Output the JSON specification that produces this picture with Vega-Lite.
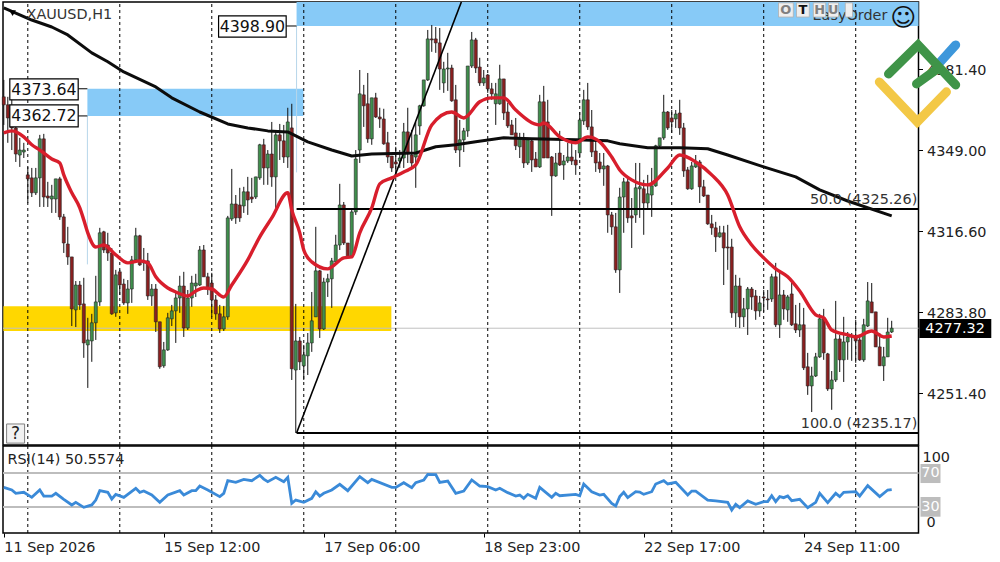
{"$schema":"https://vega.github.io/schema/vega-lite/v6.json","background":"#ffffff","padding":{"left":-4,"top":0,"right":0,"bottom":0},"spacing":1,"bounds":"flush",
"config":{"view":{"stroke":"#000000","strokeWidth":1.5},"text":{"font":"DejaVu Sans","fontSize":14.4},"axis":{"labelFont":"DejaVu Sans","labelFontSize":14.4,"labelColor":"#222222","tickColor":"#000000","domain":false,"grid":false,"title":null}},
"datasets":{
"candles":[
{"i":0,"o":4370.4,"h":4377.2,"l":4359.1,"c":4367.2},{"i":1,"o":4367.2,"h":4370.4,"l":4351.9,"c":4361.9},{"i":2,"o":4361.9,"h":4370.4,"l":4349.0,"c":4357.9},{"i":3,"o":4357.9,"h":4359.1,"l":4344.2,"c":4347.4},{"i":4,"o":4347.0,"h":4353.9,"l":4342.2,"c":4349.0},{"i":5,"o":4348.2,"h":4351.9,"l":4345.8,"c":4349.0},{"i":6,"o":4339.0,"h":4342.2,"l":4327.7,"c":4337.4},{"i":7,"o":4337.8,"h":4341.8,"l":4330.1,"c":4331.8},{"i":8,"o":4331.8,"h":4341.8,"l":4330.9,"c":4337.8},{"i":9,"o":4337.8,"h":4355.1,"l":4326.1,"c":4353.5},
{"i":10,"o":4353.5,"h":4355.5,"l":4326.1,"c":4330.1},{"i":11,"o":4330.5,"h":4336.2,"l":4326.1,"c":4329.7},{"i":12,"o":4329.3,"h":4335.0,"l":4323.7,"c":4330.5},{"i":13,"o":4329.3,"h":4337.4,"l":4323.7,"c":4337.4},{"i":14,"o":4337.4,"h":4338.2,"l":4320.9,"c":4322.1},{"i":15,"o":4322.1,"h":4323.3,"l":4307.6,"c":4311.6},{"i":16,"o":4311.2,"h":4318.1,"l":4302.8,"c":4306.0},{"i":17,"o":4306.0,"h":4306.0,"l":4278.2,"c":4285.1},{"i":18,"o":4284.7,"h":4296.3,"l":4277.8,"c":4294.7},{"i":19,"o":4294.7,"h":4296.3,"l":4284.7,"c":4286.7},
{"i":20,"o":4287.1,"h":4297.6,"l":4265.4,"c":4271.4},{"i":21,"o":4270.6,"h":4281.5,"l":4253.3,"c":4272.6},{"i":22,"o":4272.2,"h":4283.1,"l":4263.8,"c":4279.5},{"i":23,"o":4279.5,"h":4298.4,"l":4272.6,"c":4287.9},{"i":24,"o":4287.9,"h":4317.7,"l":4286.3,"c":4315.7},{"i":25,"o":4316.1,"h":4316.5,"l":4307.6,"c":4308.8},{"i":26,"o":4310.8,"h":4315.7,"l":4304.4,"c":4307.6},{"i":27,"o":4307.6,"h":4309.6,"l":4282.7,"c":4283.1},{"i":28,"o":4283.5,"h":4300.8,"l":4281.9,"c":4298.8},{"i":29,"o":4300.0,"h":4300.8,"l":4290.7,"c":4294.7},
{"i":30,"o":4295.1,"h":4297.2,"l":4286.7,"c":4287.5},{"i":31,"o":4287.5,"h":4296.7,"l":4283.1,"c":4293.1},{"i":32,"o":4293.1,"h":4306.4,"l":4287.5,"c":4304.8},{"i":33,"o":4304.8,"h":4317.7,"l":4304.0,"c":4314.5},{"i":34,"o":4314.5,"h":4314.9,"l":4302.4,"c":4302.8},{"i":35,"o":4304.0,"h":4309.6,"l":4300.4,"c":4303.6},{"i":36,"o":4304.4,"h":4307.6,"l":4288.7,"c":4290.3},{"i":37,"o":4290.3,"h":4295.1,"l":4286.3,"c":4293.1},{"i":38,"o":4293.1,"h":4295.1,"l":4275.8,"c":4279.9},{"i":39,"o":4279.9,"h":4279.9,"l":4261.0,"c":4261.8},
{"i":40,"o":4262.2,"h":4271.8,"l":4261.4,"c":4268.6},{"i":41,"o":4268.6,"h":4283.5,"l":4268.2,"c":4281.5},{"i":42,"o":4281.1,"h":4286.7,"l":4278.2,"c":4284.3},{"i":43,"o":4284.3,"h":4291.5,"l":4271.4,"c":4289.5},{"i":44,"o":4289.5,"h":4298.4,"l":4283.5,"c":4294.3},{"i":45,"o":4294.3,"h":4300.0,"l":4273.8,"c":4277.4},{"i":46,"o":4277.4,"h":4292.7,"l":4276.6,"c":4289.5},{"i":47,"o":4289.5,"h":4298.4,"l":4285.9,"c":4295.5},{"i":48,"o":4294.3,"h":4299.2,"l":4289.9,"c":4295.5},{"i":49,"o":4294.7,"h":4310.4,"l":4294.3,"c":4308.8},
{"i":50,"o":4308.8,"h":4310.8,"l":4298.0,"c":4298.0},{"i":51,"o":4298.0,"h":4299.6,"l":4290.7,"c":4293.5},{"i":52,"o":4295.5,"h":4299.6,"l":4281.9,"c":4288.7},{"i":53,"o":4288.7,"h":4290.7,"l":4280.7,"c":4283.1},{"i":54,"o":4283.1,"h":4286.7,"l":4275.4,"c":4277.0},{"i":55,"o":4277.0,"h":4286.3,"l":4276.2,"c":4281.9},{"i":56,"o":4281.9,"h":4322.5,"l":4280.7,"c":4321.7},{"i":57,"o":4321.3,"h":4341.4,"l":4320.5,"c":4327.3},{"i":58,"o":4327.3,"h":4330.9,"l":4319.3,"c":4321.7},{"i":59,"o":4326.9,"h":4333.8,"l":4320.1,"c":4321.7},
{"i":60,"o":4326.5,"h":4334.2,"l":4323.7,"c":4332.2},{"i":61,"o":4332.2,"h":4338.2,"l":4322.9,"c":4328.9},{"i":62,"o":4330.1,"h":4337.8,"l":4327.7,"c":4329.3},{"i":63,"o":4330.1,"h":4338.2,"l":4329.3,"c":4338.2},{"i":64,"o":4337.8,"h":4351.5,"l":4337.0,"c":4351.1},{"i":65,"o":4351.1,"h":4353.5,"l":4335.0,"c":4341.8},{"i":66,"o":4341.8,"h":4349.0,"l":4335.0,"c":4347.4},{"i":67,"o":4347.4,"h":4360.3,"l":4334.2,"c":4338.2},{"i":68,"o":4338.2,"h":4356.3,"l":4325.7,"c":4355.1},{"i":69,"o":4355.1,"h":4359.5,"l":4345.0,"c":4352.7},
{"i":70,"o":4352.7,"h":4359.1,"l":4343.8,"c":4346.2},{"i":71,"o":4346.2,"h":4366.0,"l":4341.8,"c":4360.3},{"i":72,"o":4357.9,"h":4367.6,"l":4256.5,"c":4261.0},{"i":73,"o":4260.5,"h":4287.1,"l":4235.17,"c":4272.2},{"i":74,"o":4272.2,"h":4273.8,"l":4260.5,"c":4263.8},{"i":75,"o":4262.2,"h":4270.6,"l":4256.5,"c":4266.6},{"i":76,"o":4266.2,"h":4275.4,"l":4258.5,"c":4271.4},{"i":77,"o":4271.4,"h":4291.9,"l":4267.8,"c":4280.3},{"i":78,"o":4281.9,"h":4318.1,"l":4281.9,"c":4300.4},{"i":79,"o":4300.4,"h":4300.8,"l":4273.4,"c":4277.0},
{"i":80,"o":4277.0,"h":4297.6,"l":4276.6,"c":4295.9},{"i":81,"o":4295.9,"h":4299.2,"l":4289.9,"c":4297.2},{"i":82,"o":4297.2,"h":4305.6,"l":4285.5,"c":4304.4},{"i":83,"o":4304.0,"h":4314.9,"l":4303.6,"c":4310.8},{"i":84,"o":4310.8,"h":4335.4,"l":4308.8,"c":4326.9},{"i":85,"o":4326.9,"h":4328.1,"l":4310.8,"c":4311.6},{"i":86,"o":4311.6,"h":4311.6,"l":4305.6,"c":4306.0},{"i":87,"o":4306.4,"h":4324.9,"l":4305.6,"c":4324.1},{"i":88,"o":4324.1,"h":4349.0,"l":4322.9,"c":4345.4},{"i":89,"o":4349.0,"h":4381.2,"l":4343.8,"c":4371.6},
{"i":90,"o":4371.2,"h":4375.2,"l":4358.3,"c":4366.8},{"i":91,"o":4367.6,"h":4380.0,"l":4351.9,"c":4353.5},{"i":92,"o":4353.5,"h":4370.0,"l":4351.1,"c":4370.0},{"i":93,"o":4370.0,"h":4372.0,"l":4361.9,"c":4362.3},{"i":94,"o":4362.3,"h":4366.0,"l":4357.9,"c":4361.5},{"i":95,"o":4361.5,"h":4365.6,"l":4351.1,"c":4351.5},{"i":96,"o":4351.9,"h":4356.3,"l":4343.8,"c":4346.2},{"i":97,"o":4346.6,"h":4346.6,"l":4340.2,"c":4341.8},{"i":98,"o":4344.2,"h":4350.3,"l":4339.0,"c":4343.4},{"i":99,"o":4344.6,"h":4349.0,"l":4341.8,"c":4345.8},
{"i":100,"o":4345.8,"h":4359.9,"l":4341.8,"c":4356.3},{"i":101,"o":4356.3,"h":4366.0,"l":4343.8,"c":4347.8},{"i":102,"o":4347.0,"h":4357.1,"l":4341.8,"c":4343.8},{"i":103,"o":4346.2,"h":4360.3,"l":4333.8,"c":4355.1},{"i":104,"o":4358.7,"h":4367.2,"l":4355.1,"c":4366.8},{"i":105,"o":4366.8,"h":4377.2,"l":4366.4,"c":4377.2},{"i":106,"o":4377.2,"h":4397.3,"l":4376.8,"c":4393.7},{"i":107,"o":4393.7,"h":4399.3,"l":4388.5,"c":4393.3},{"i":108,"o":4393.7,"h":4398.5,"l":4388.1,"c":4392.1},{"i":109,"o":4392.1,"h":4398.1,"l":4373.2,"c":4381.6},
{"i":110,"o":4376.0,"h":4384.5,"l":4372.0,"c":4381.6},{"i":111,"o":4381.6,"h":4388.1,"l":4372.8,"c":4382.0},{"i":112,"o":4382.0,"h":4383.3,"l":4368.4,"c":4368.8},{"i":113,"o":4369.2,"h":4375.2,"l":4347.8,"c":4349.0},{"i":114,"o":4349.0,"h":4361.1,"l":4342.2,"c":4353.1},{"i":115,"o":4353.1,"h":4357.9,"l":4348.2,"c":4356.7},{"i":116,"o":4356.7,"h":4382.8,"l":4354.3,"c":4382.8},{"i":117,"o":4382.8,"h":4396.5,"l":4382.0,"c":4393.3},{"i":118,"o":4393.3,"h":4394.1,"l":4380.0,"c":4382.0},{"i":119,"o":4382.4,"h":4386.1,"l":4374.8,"c":4376.0},
{"i":120,"o":4376.0,"h":4381.2,"l":4374.8,"c":4378.0},{"i":121,"o":4379.2,"h":4379.6,"l":4372.0,"c":4373.6},{"i":122,"o":4373.6,"h":4376.0,"l":4369.2,"c":4371.6},{"i":123,"o":4367.6,"h":4376.0,"l":4359.1,"c":4371.6},{"i":124,"o":4367.6,"h":4383.3,"l":4367.2,"c":4377.6},{"i":125,"o":4377.6,"h":4377.6,"l":4361.1,"c":4363.9},{"i":126,"o":4364.3,"h":4368.0,"l":4357.9,"c":4358.7},{"i":127,"o":4359.1,"h":4361.1,"l":4355.1,"c":4355.1},{"i":128,"o":4355.9,"h":4361.9,"l":4349.0,"c":4350.7},{"i":129,"o":4350.3,"h":4355.9,"l":4345.8,"c":4353.9},
{"i":130,"o":4353.1,"h":4355.9,"l":4341.8,"c":4343.8},{"i":131,"o":4343.8,"h":4353.9,"l":4343.0,"c":4353.1},{"i":132,"o":4352.7,"h":4353.1,"l":4340.2,"c":4345.0},{"i":133,"o":4345.4,"h":4348.2,"l":4342.2,"c":4342.2},{"i":134,"o":4342.2,"h":4371.2,"l":4341.8,"c":4368.4},{"i":135,"o":4368.4,"h":4374.8,"l":4345.8,"c":4345.8},{"i":136,"o":4360.3,"h":4369.2,"l":4345.8,"c":4345.8},{"i":137,"o":4346.2,"h":4346.6,"l":4322.5,"c":4338.6},{"i":138,"o":4338.6,"h":4347.8,"l":4338.2,"c":4343.8},{"i":139,"o":4347.8,"h":4356.7,"l":4342.6,"c":4343.0},
{"i":140,"o":4343.0,"h":4347.0,"l":4337.0,"c":4344.6},{"i":141,"o":4344.6,"h":4351.9,"l":4343.8,"c":4346.2},{"i":142,"o":4346.2,"h":4351.9,"l":4343.0,"c":4344.6},{"i":143,"o":4345.0,"h":4349.0,"l":4339.0,"c":4343.0},{"i":144,"o":4347.8,"h":4364.3,"l":4345.8,"c":4361.1},{"i":145,"o":4360.7,"h":4373.2,"l":4359.1,"c":4369.2},{"i":146,"o":4369.2,"h":4376.0,"l":4357.1,"c":4358.3},{"i":147,"o":4358.3,"h":4365.1,"l":4346.2,"c":4348.2},{"i":148,"o":4348.6,"h":4353.1,"l":4340.2,"c":4343.8},{"i":149,"o":4344.2,"h":4347.8,"l":4339.8,"c":4341.4},
{"i":150,"o":4341.4,"h":4347.8,"l":4334.6,"c":4342.6},{"i":151,"o":4342.6,"h":4343.0,"l":4315.7,"c":4322.9},{"i":152,"o":4322.9,"h":4324.1,"l":4314.9,"c":4318.1},{"i":153,"o":4318.1,"h":4323.7,"l":4299.6,"c":4300.8},{"i":154,"o":4300.8,"h":4333.8,"l":4291.5,"c":4330.1},{"i":155,"o":4330.1,"h":4337.8,"l":4315.7,"c":4336.2},{"i":156,"o":4336.2,"h":4337.8,"l":4319.7,"c":4321.7},{"i":157,"o":4322.5,"h":4329.7,"l":4309.6,"c":4321.7},{"i":158,"o":4322.9,"h":4343.8,"l":4319.7,"c":4333.8},{"i":159,"o":4333.4,"h":4343.8,"l":4321.7,"c":4334.2},
{"i":160,"o":4333.4,"h":4337.0,"l":4314.9,"c":4327.7},{"i":161,"o":4327.7,"h":4339.0,"l":4325.7,"c":4331.4},{"i":162,"o":4330.9,"h":4341.8,"l":4322.1,"c":4334.6},{"i":163,"o":4334.6,"h":4351.1,"l":4334.2,"c":4350.7},{"i":164,"o":4350.7,"h":4353.9,"l":4349.5,"c":4353.9},{"i":165,"o":4353.9,"h":4371.2,"l":4353.1,"c":4364.3},{"i":166,"o":4364.3,"h":4364.7,"l":4357.1,"c":4357.9},{"i":167,"o":4361.9,"h":4365.1,"l":4355.9,"c":4360.3},{"i":168,"o":4361.5,"h":4365.1,"l":4357.9,"c":4363.5},{"i":169,"o":4363.9,"h":4369.2,"l":4355.1,"c":4357.9},
{"i":170,"o":4357.9,"h":4359.9,"l":4338.2,"c":4340.6},{"i":171,"o":4341.0,"h":4342.2,"l":4333.0,"c":4333.4},{"i":172,"o":4333.4,"h":4344.2,"l":4333.0,"c":4342.6},{"i":173,"o":4342.2,"h":4347.0,"l":4341.8,"c":4343.8},{"i":174,"o":4344.2,"h":4345.0,"l":4327.7,"c":4334.2},{"i":175,"o":4334.2,"h":4337.0,"l":4330.1,"c":4330.5},{"i":176,"o":4330.9,"h":4330.9,"l":4318.9,"c":4319.3},{"i":177,"o":4319.3,"h":4322.9,"l":4314.9,"c":4317.7},{"i":178,"o":4317.7,"h":4320.1,"l":4308.0,"c":4314.1},{"i":179,"o":4314.1,"h":4318.5,"l":4313.7,"c":4315.7},
{"i":180,"o":4315.7,"h":4318.5,"l":4294.7,"c":4309.6},{"i":181,"o":4310.0,"h":4318.9,"l":4300.8,"c":4309.6},{"i":182,"o":4310.0,"h":4313.3,"l":4281.5,"c":4283.5},{"i":183,"o":4283.5,"h":4298.8,"l":4277.8,"c":4294.3},{"i":184,"o":4294.3,"h":4297.6,"l":4277.4,"c":4281.9},{"i":185,"o":4281.9,"h":4289.5,"l":4277.8,"c":4285.1},{"i":186,"o":4285.1,"h":4293.9,"l":4274.6,"c":4293.1},{"i":187,"o":4293.1,"h":4293.9,"l":4284.7,"c":4289.9},{"i":188,"o":4290.3,"h":4292.7,"l":4280.7,"c":4284.3},{"i":189,"o":4284.3,"h":4290.3,"l":4281.9,"c":4287.5},
{"i":190,"o":4289.9,"h":4292.7,"l":4283.9,"c":4289.5},{"i":191,"o":4289.1,"h":4292.7,"l":4284.7,"c":4288.7},{"i":192,"o":4289.1,"h":4299.2,"l":4287.9,"c":4298.0},{"i":193,"o":4298.0,"h":4303.6,"l":4277.8,"c":4278.7},{"i":194,"o":4278.7,"h":4300.0,"l":4273.4,"c":4290.7},{"i":195,"o":4290.7,"h":4292.7,"l":4280.7,"c":4285.1},{"i":196,"o":4284.7,"h":4290.7,"l":4279.9,"c":4289.9},{"i":197,"o":4291.1,"h":4295.9,"l":4278.2,"c":4278.7},{"i":198,"o":4279.1,"h":4286.7,"l":4275.4,"c":4276.6},{"i":199,"o":4276.6,"h":4287.5,"l":4273.8,"c":4278.7},
{"i":200,"o":4278.7,"h":4285.5,"l":4260.5,"c":4261.4},{"i":201,"o":4261.8,"h":4267.4,"l":4250.5,"c":4254.1},{"i":202,"o":4254.1,"h":4261.8,"l":4243.6,"c":4258.1},{"i":203,"o":4258.1,"h":4267.4,"l":4257.7,"c":4265.8},{"i":204,"o":4265.8,"h":4283.1,"l":4265.4,"c":4281.1},{"i":205,"o":4281.1,"h":4285.1,"l":4264.6,"c":4267.4},{"i":206,"o":4267.0,"h":4267.4,"l":4252.1,"c":4252.9},{"i":207,"o":4252.9,"h":4260.1,"l":4244.5,"c":4256.5},{"i":208,"o":4256.5,"h":4288.3,"l":4255.7,"c":4273.0},{"i":209,"o":4273.0,"h":4274.6,"l":4259.7,"c":4264.6},
{"i":210,"o":4264.6,"h":4281.9,"l":4255.7,"c":4271.8},{"i":211,"o":4271.8,"h":4275.8,"l":4264.6,"c":4273.8},{"i":212,"o":4273.8,"h":4275.4,"l":4264.2,"c":4274.2},{"i":213,"o":4273.8,"h":4280.7,"l":4263.4,"c":4272.2},{"i":214,"o":4272.6,"h":4274.6,"l":4264.2,"c":4264.6},{"i":215,"o":4264.6,"h":4281.1,"l":4263.8,"c":4278.7},{"i":216,"o":4278.2,"h":4295.9,"l":4277.8,"c":4288.3},{"i":217,"o":4287.9,"h":4295.5,"l":4283.5,"c":4283.5},{"i":218,"o":4283.9,"h":4283.9,"l":4269.8,"c":4269.8},{"i":219,"o":4269.8,"h":4275.4,"l":4262.2,"c":4262.2},
{"i":220,"o":4262.2,"h":4269.8,"l":4256.1,"c":4265.8},{"i":221,"o":4265.8,"h":4281.5,"l":4265.8,"c":4275.8},{"i":222,"o":4275.8,"h":4280.3,"l":4275.4,"c":4277.32}],
"ema":[{"i":0,"p":4355.9},{"i":2,"p":4356.7},{"i":5,"p":4354.3},{"i":7,"p":4351.1},{"i":9,"p":4349.0},{"i":12,"p":4345.4},{"i":14,"p":4343.8},{"i":15,"p":4339.0},{"i":17,"p":4331.8},{"i":19,"p":4325.7},{"i":20,"p":4320.9},{"i":21,"p":4315.7},{"i":23,"p":4310.0},{"i":25,"p":4310.8},{"i":28,"p":4306.8},{"i":31,"p":4303.6},{"i":34,"p":4304.4},{"i":36,"p":4303.6},{"i":38,"p":4298.0},{"i":41,"p":4293.5},{"i":43,"p":4291.9},{"i":46,"p":4290.3},{"i":48,"p":4292.3},{"i":50,"p":4293.5},{"i":52,"p":4293.1},{"i":55,"p":4289.9},{"i":57,"p":4294.7},{"i":61,"p":4304.8},{"i":64,"p":4314.1},{"i":67,"p":4321.7},{"i":71,"p":4331.8},{"i":72,"p":4324.9},{"i":74,"p":4315.7},{"i":75,"p":4308.8},{"i":77,"p":4304.0},{"i":81,"p":4301.2},{"i":82,"p":4302.0},{"i":85,"p":4305.6},{"i":87,"p":4306.0},{"i":89,"p":4315.7},{"i":92,"p":4325.7},{"i":94,"p":4335.4},{"i":97,"p":4337.8},{"i":100,"p":4340.2},{"i":103,"p":4343.0},{"i":107,"p":4359.1},{"i":112,"p":4364.3},{"i":115,"p":4361.9},{"i":119,"p":4368.4},{"i":122,"p":4370.0},{"i":125,"p":4370.0},{"i":128,"p":4365.1},{"i":134,"p":4359.1},{"i":135,"p":4359.9},{"i":139,"p":4354.3},{"i":143,"p":4351.9},{"i":146,"p":4354.3},{"i":149,"p":4352.3},{"i":152,"p":4346.2},{"i":154,"p":4341.0},{"i":157,"p":4337.0},{"i":161,"p":4335.0},{"i":166,"p":4341.8},{"i":169,"p":4347.0},{"i":173,"p":4344.2},{"i":177,"p":4339.0},{"i":181,"p":4330.9},{"i":184,"p":4318.1},{"i":187,"p":4310.8},{"i":190,"p":4305.6},{"i":193,"p":4301.2},{"i":196,"p":4298.0},{"i":199,"p":4292.3},{"i":203,"p":4282.7},{"i":205,"p":4281.5},{"i":207,"p":4276.6},{"i":211,"p":4274.6},{"i":213,"p":4273.8},{"i":217,"p":4276.2},{"i":220,"p":4273.8},{"i":222,"p":4274.2}],
"sma":[{"i":0,"p":4406.2},{"i":3,"p":4404.1},{"i":7,"p":4401.3},{"i":12,"p":4398.5},{"i":16,"p":4395.3},{"i":22,"p":4388.1},{"i":26,"p":4384.5},{"i":30,"p":4380.4},{"i":38,"p":4374.4},{"i":42,"p":4370.0},{"i":49,"p":4364.3},{"i":56,"p":4359.5},{"i":61,"p":4357.9},{"i":66,"p":4356.7},{"i":71,"p":4356.3},{"i":74,"p":4353.9},{"i":76,"p":4352.3},{"i":82,"p":4349.0},{"i":87,"p":4346.6},{"i":92,"p":4347.4},{"i":103,"p":4347.8},{"i":108,"p":4350.3},{"i":113,"p":4351.1},{"i":118,"p":4352.3},{"i":125,"p":4353.9},{"i":132,"p":4353.5},{"i":143,"p":4353.1},{"i":151,"p":4352.7},{"i":154,"p":4351.5},{"i":161,"p":4349.9},{"i":169,"p":4349.9},{"i":176,"p":4349.5},{"i":181,"p":4347.0},{"i":190,"p":4342.2},{"i":198,"p":4338.2},{"i":204,"p":4333.0},{"i":211,"p":4328.5},{"i":222,"p":4322.5}],
"rsi":[{"i":0,"r":53.1},{"i":2,"r":50},{"i":3,"r":46.1},{"i":5,"r":47.3},{"i":7,"r":41.4},{"i":9,"r":50},{"i":10,"r":42.9},{"i":12,"r":42.9},{"i":13,"r":46.1},{"i":15,"r":39},{"i":17,"r":32.4},{"i":18,"r":35.5},{"i":20,"r":29.6},{"i":22,"r":32.4},{"i":23,"r":38.2},{"i":24,"r":49.2},{"i":26,"r":47.3},{"i":27,"r":39.4},{"i":28,"r":44.9},{"i":30,"r":41.4},{"i":33,"r":52},{"i":34,"r":47.3},{"i":35,"r":48.8},{"i":37,"r":44.1},{"i":39,"r":35.5},{"i":41,"r":44.1},{"i":44,"r":49.2},{"i":45,"r":44.1},{"i":47,"r":49.2},{"i":48,"r":49.2},{"i":49,"r":54.7},{"i":51,"r":50},{"i":54,"r":42.2},{"i":55,"r":46.1},{"i":56,"r":61},{"i":58,"r":59},{"i":60,"r":62.5},{"i":62,"r":61},{"i":64,"r":67.3},{"i":65,"r":62.9},{"i":66,"r":59.8},{"i":68,"r":64.9},{"i":70,"r":59.8},{"i":71,"r":64.9},{"i":72,"r":34.3},{"i":73,"r":38.2},{"i":75,"r":35.5},{"i":77,"r":40.2},{"i":78,"r":48},{"i":79,"r":42.9},{"i":80,"r":46.1},{"i":82,"r":50},{"i":84,"r":56.7},{"i":86,"r":49.2},{"i":89,"r":65.7},{"i":91,"r":58.6},{"i":92,"r":62.5},{"i":97,"r":53.1},{"i":98,"r":53.1},{"i":100,"r":58.6},{"i":102,"r":52.7},{"i":103,"r":58.6},{"i":105,"r":61.8},{"i":106,"r":68.4},{"i":108,"r":68},{"i":109,"r":59},{"i":111,"r":60.6},{"i":113,"r":46.1},{"i":115,"r":48.8},{"i":117,"r":61.8},{"i":119,"r":54.7},{"i":121,"r":53.9},{"i":123,"r":50},{"i":124,"r":52},{"i":126,"r":46.9},{"i":128,"r":42.9},{"i":129,"r":44.1},{"i":130,"r":40.2},{"i":131,"r":44.9},{"i":133,"r":40.2},{"i":134,"r":53.1},{"i":137,"r":41.4},{"i":138,"r":46.1},{"i":139,"r":43.3},{"i":143,"r":44.9},{"i":144,"r":43.3},{"i":145,"r":57.1},{"i":147,"r":48},{"i":149,"r":44.1},{"i":150,"r":44.9},{"i":152,"r":34.3},{"i":153,"r":31.2},{"i":154,"r":42.2},{"i":155,"r":47.3},{"i":156,"r":41},{"i":158,"r":48},{"i":159,"r":47.6},{"i":160,"r":44.9},{"i":162,"r":48},{"i":163,"r":57.1},{"i":165,"r":61},{"i":166,"r":57.1},{"i":168,"r":59},{"i":171,"r":44.1},{"i":172,"r":48.8},{"i":173,"r":48.8},{"i":176,"r":38.2},{"i":178,"r":37.1},{"i":181,"r":35.5},{"i":182,"r":26.5},{"i":183,"r":33.1},{"i":184,"r":29.2},{"i":186,"r":37.1},{"i":188,"r":33.1},{"i":190,"r":36.3},{"i":191,"r":36.3},{"i":192,"r":43.3},{"i":193,"r":36.3},{"i":194,"r":42.2},{"i":195,"r":41},{"i":196,"r":42.9},{"i":197,"r":37.5},{"i":199,"r":39},{"i":201,"r":29.2},{"i":203,"r":35.5},{"i":204,"r":46.1},{"i":206,"r":35.1},{"i":208,"r":46.1},{"i":209,"r":42.2},{"i":210,"r":47.3},{"i":213,"r":48},{"i":214,"r":42.9},{"i":216,"r":55.1},{"i":219,"r":42.2},{"i":221,"r":50},{"i":222,"r":50.56}]
},
"vconcat":[
{"width":915.5,"height":443,
"resolve":{"scale":{"color":"independent"}},
"encoding":{"x":{"field":"i","type":"quantitative","scale":{"domain":[-0.2,228.7],"padding":0},"axis":null},"y":{"field":"p","type":"quantitative","scale":{"domain":[4230.34,4408.55]},"axis":{"orient":"right","values":[4381.4,4349,4316.6,4283.8,4251.4],"format":".2f","tickSize":4,"labelPadding":4,"labelOffset":1.5}}},
"layer":[
{"data":{"values":[{"zone":"b1","i":20.9,"i2":74.9,"p":4362.72,"p2":4373.64},{"zone":"b2","i":73.2,"i2":228.7,"p":4398.9,"p2":4408.55},{"zone":"y","i":-0.1,"i2":96.9,"p":4276.2,"p2":4286.2}]},"mark":{"type":"rect"},"encoding":{"x2":{"field":"i2"},"y2":{"field":"p2"},"color":{"field":"zone","type":"nominal","legend":null,"scale":{"domain":["b1","b2","y"],"range":["#87CAF7","#87CAF7","#FFD700"]}}}},
{"data":{"values":[{"i":20.9,"p":4362.72,"p2":4303},{"i":73.2,"p":4398.9,"p2":4340}]},"mark":{"type":"rule","stroke":"#b7d6ea","strokeWidth":1},"encoding":{"y2":{"field":"p2"}}},
{"data":{"values":[{"i":-0.2,"i2":228.7,"p":4277.32}]},"mark":{"type":"rule","stroke":"#c0c0c0","strokeWidth":1},"encoding":{"x2":{"field":"i2"}}},
{"data":{"values":[{"i":6,"p":4230.34,"p2":4408.55},{"i":29,"p":4230.34,"p2":4408.55},{"i":52,"p":4230.34,"p2":4408.55},{"i":75,"p":4230.34,"p2":4408.55},{"i":98,"p":4230.34,"p2":4408.55},{"i":121,"p":4230.34,"p2":4408.55},{"i":144,"p":4230.34,"p2":4408.55},{"i":167,"p":4230.34,"p2":4408.55},{"i":190,"p":4230.34,"p2":4408.55},{"i":213,"p":4230.34,"p2":4408.55}]},"mark":{"type":"rule","stroke":"#000000","strokeWidth":1,"strokeDash":[3,3]},"encoding":{"y2":{"field":"p2"}}},
{"data":{"name":"candles"},"mark":{"type":"rule","stroke":"#111111","strokeWidth":1},"encoding":{"y":{"field":"h","type":"quantitative","scale":{"domain":[4230.34,4408.55]}},"y2":{"field":"l"}}},
{"data":{"name":"candles"},"mark":{"type":"bar","size":3,"stroke":"#222222","strokeWidth":0.6},"encoding":{"y":{"field":"o","type":"quantitative","scale":{"domain":[4230.34,4408.55]}},"y2":{"field":"c"},"color":{"condition":{"test":"datum.c > datum.o","value":"#3f8f4c"},"value":"#8c1f1f"}}},
{"data":{"values":[{"i":73.2,"i2":228.7,"p":4325.26},{"i":73.2,"i2":228.7,"p":4235.17}]},"mark":{"type":"rule","stroke":"#000000","strokeWidth":2},"encoding":{"x2":{"field":"i2"}}},
{"data":{"values":[{"i":73.2,"p":4235.17},{"i":114.4,"p":4408.55}]},"mark":{"type":"line","stroke":"#000000","strokeWidth":1.6,"clip":true}},
{"data":{"name":"sma"},"mark":{"type":"line","stroke":"#0c0c0c","strokeWidth":3,"strokeJoin":"round"}},
{"data":{"name":"ema"},"mark":{"type":"line","stroke":"#d81e2c","strokeWidth":3.4,"interpolate":"monotone"}},
{"data":{"values":[{"i":18.6,"i2":20.9,"p":4373.64},{"i":18.6,"i2":20.9,"p":4362.72},{"i":70.6,"i2":73.2,"p":4398.9}]},"mark":{"type":"rule","stroke":"#000000","strokeWidth":1},"encoding":{"x2":{"field":"i2"}}},
{"data":{"values":[{"i":1.5,"i2":18.6,"p":4377.6,"p2":4369.2},{"i":1.5,"i2":18.6,"p":4367.2,"p2":4358.3},{"i":53.7,"i2":70.6,"p":4403.0,"p2":4394.4}]},"mark":{"type":"rect","fill":"#ffffff","stroke":"#000000","strokeWidth":1.2},"encoding":{"x2":{"field":"i2"},"y2":{"field":"p2"}}},
{"data":{"values":[{"i":10.05,"p":4373.2,"t":"4373.64"},{"i":10.05,"p":4362.5,"t":"4362.72"},{"i":62.15,"p":4398.5,"t":"4398.90"}]},"mark":{"type":"text","align":"center","baseline":"middle","color":"#111111","fontSize":15.8},"encoding":{"text":{"field":"t"}}},
{"data":{"values":[{"i":228.4,"p":4325.9,"t":"50.0 (4325.26)"},{"i":228.4,"p":4235.8,"t":"100.0 (4235.17)"}]},"mark":{"type":"text","align":"right","baseline":"bottom","color":"#333333"},"encoding":{"text":{"field":"t"}}},
{"data":{"values":[{"i":5.7,"p":4403.3,"t":"XAUUSD,H1"},{"i":202.2,"p":4403.0,"t":"EasyOrder"}]},"mark":{"type":"text","align":"left","baseline":"middle","color":"#333333"},"encoding":{"text":{"field":"t"}}},
{"data":{"values":[{"i":2.2,"p":4404.1}]},"mark":{"type":"point","shape":"triangle-down","filled":true,"size":45,"color":"#000000","opacity":1}},
{"data":{"values":[{"i":224.9,"p":4402.3,"t":"☺"}]},"mark":{"type":"text","align":"center","baseline":"middle","fontSize":25,"color":"#111111"},"encoding":{"text":{"field":"t"}}},
{"data":{"values":[{"i":193.7,"i2":197.4,"p":4408.2,"p2":4402.5},{"i":198.2,"i2":201.4,"p":4408.2,"p2":4402.5},{"i":202.4,"i2":205.5,"p":4408.2,"p2":4402.5},{"i":206.2,"i2":208.7,"p":4408.2,"p2":4402.5},{"i":210.4,"i2":212.2,"p":4408.2,"p2":4402.5}]},"mark":{"type":"rect","fill":"#eeeeee","stroke":"#b0b0b0","strokeWidth":0.8},"encoding":{"x2":{"field":"i2"},"y2":{"field":"p2"}}},
{"data":{"values":[{"i":195.5,"p":4405.3,"t":"O","k":"g"},{"i":199.8,"p":4405.3,"t":"T","k":"b"},{"i":204,"p":4405.3,"t":"H","k":"g"},{"i":207.4,"p":4405.3,"t":"U","k":"g"}]},"mark":{"type":"text","align":"center","baseline":"middle","fontSize":13,"fontWeight":"bold"},"encoding":{"text":{"field":"t"},"color":{"field":"k","type":"nominal","legend":null,"scale":{"domain":["g","b"],"range":["#808080","#111111"]}}}},
{"data":{"values":[{"i":0.7,"i2":5.2,"p":4238.8,"p2":4231.1}]},"mark":{"type":"rect","fill":"#f2f2f2","stroke":"#808080","strokeWidth":1},"encoding":{"x2":{"field":"i2"},"y2":{"field":"p2"}}},
{"data":{"values":[{"i":2.95,"p":4234.8,"t":"?"}]},"mark":{"type":"text","align":"center","baseline":"middle","fontSize":17,"color":"#222222"},"encoding":{"text":{"field":"t"}}},
{"data":{"values":[{"i":228.9,"i2":246.9,"p":4281.0,"p2":4273.4}]},"mark":{"type":"rect","fill":"#000000"},"encoding":{"x2":{"field":"i2"},"y2":{"field":"p2"}}},
{"data":{"values":[{"i":230.4,"p":4277.2,"t":"4277.32"}]},"mark":{"type":"text","align":"left","baseline":"middle","color":"#ffffff"},"encoding":{"text":{"field":"t"}}},
{"data":{"values":[{"seg":"blue","i":234.2,"p":4384.5},{"seg":"blue","i":238,"p":4391.3},{"seg":"yellow","i":218.9,"p":4376.4},{"seg":"yellow","i":228.4,"p":4360.3},{"seg":"yellow","i":235.7,"p":4372.4},{"seg":"green","i":221.2,"p":4379.6},{"seg":"green","i":228.6,"p":4391.3},{"seg":"green","i":238,"p":4375.2},{"seg":"green2","i":228.2,"p":4375.6},{"seg":"green2","i":233.7,"p":4382}]},"mark":{"type":"line","strokeWidth":9,"strokeCap":"round","strokeJoin":"miter"},"encoding":{"detail":{"field":"seg"},"color":{"field":"seg","type":"nominal","legend":null,"scale":{"domain":["blue","yellow","green","green2"],"range":["#3d97db","#f3c846","#3f9448","#3f9448"]}}}}
]},
{"width":915.5,"height":87,
"encoding":{"x":{"field":"i","type":"quantitative","scale":{"domain":[-0.2,228.7]},"axis":{"orient":"bottom","values":[0,40,80,120,160,200],"tickSize":4,"labelPadding":3,"labelAlign":"left","labelFlush":false,"labelOverlap":false,"labelBound":false,"labelExpr":"datum.value==0?'11 Sep 2026':datum.value==40?'15 Sep 12:00':datum.value==80?'17 Sep 06:00':datum.value==120?'18 Sep 23:00':datum.value==160?'22 Sep 17:00':'24 Sep 11:00'"}},"y":{"field":"r","type":"quantitative","scale":{"domain":[-0.6,101.8]},"axis":null}},
"layer":[
{"data":{"values":[{"i":6,"r":-0.6,"r2":101.8},{"i":29,"r":-0.6,"r2":101.8},{"i":52,"r":-0.6,"r2":101.8},{"i":75,"r":-0.6,"r2":101.8},{"i":98,"r":-0.6,"r2":101.8},{"i":121,"r":-0.6,"r2":101.8},{"i":144,"r":-0.6,"r2":101.8},{"i":167,"r":-0.6,"r2":101.8},{"i":190,"r":-0.6,"r2":101.8},{"i":213,"r":-0.6,"r2":101.8}]},"mark":{"type":"rule","stroke":"#000000","strokeWidth":1,"strokeDash":[3,3]},"encoding":{"y2":{"field":"r2"}}},
{"data":{"values":[{"i":-0.2,"i2":228.7,"r":70},{"i":-0.2,"i2":228.7,"r":30}]},"mark":{"type":"rule","stroke":"#bdbdbd","strokeWidth":2},"encoding":{"x2":{"field":"i2"}}},
{"data":{"name":"rsi"},"mark":{"type":"line","stroke":"#3a8ad8","strokeWidth":2.8}},
{"data":{"values":[{"i":0.9,"r":85.3,"t":"RSI(14) 50.5574"}]},"mark":{"type":"text","align":"left","baseline":"middle","color":"#222222"},"encoding":{"text":{"field":"t"}}},
{"data":{"values":[{"i":229.2,"i2":234.2,"r":80.6,"r2":58.2},{"i":229.2,"i2":234.2,"r":41.8,"r2":18.6}]},"mark":{"type":"rect","fill":"#bdbdbd"},"encoding":{"x2":{"field":"i2"},"y2":{"field":"r2"}}},
{"data":{"values":[{"i":231.7,"r":70,"t":"70"},{"i":231.7,"r":30,"t":"30"}]},"mark":{"type":"text","align":"center","baseline":"middle","color":"#ffffff"},"encoding":{"text":{"field":"t"}}},
{"data":{"values":[{"i":229.7,"r":87.6,"t":"100"},{"i":230.7,"r":11.2,"t":"0"}]},"mark":{"type":"text","align":"left","baseline":"middle","color":"#222222"},"encoding":{"text":{"field":"t"}}}
]}
]}
